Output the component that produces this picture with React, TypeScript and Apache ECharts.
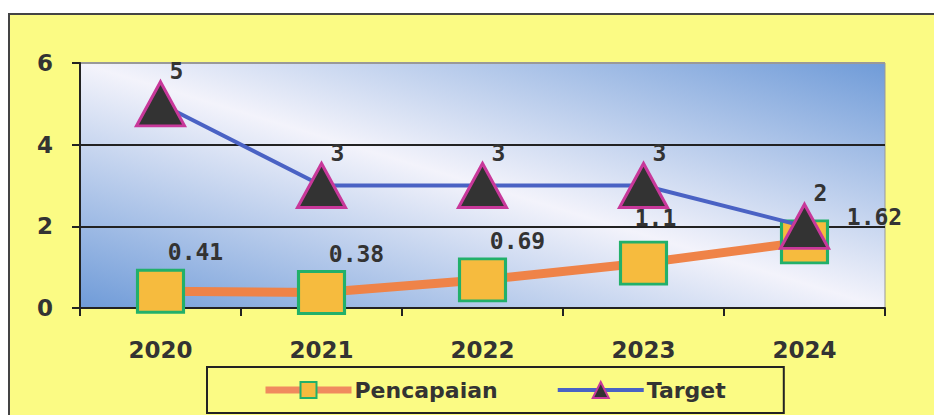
import React, { useEffect, useRef } from "react";
import * as echarts from "echarts";

const categories = ["2020", "2021", "2022", "2023", "2024"];
const pencapaian = [0.41, 0.38, 0.69, 1.1, 1.62];
const target = [5, 3, 3, 3, 2];
const seriesNames = ["Pencapaian", "Target"];

const FONT = "'DejaVu Sans', sans-serif";
const MONO = "'DejaVu Sans Mono', monospace";
const INK = "#333333";

export default function App() {
  const ref = useRef<HTMLDivElement>(null);

  useEffect(() => {
    if (!ref.current) return;
    const chart = echarts.init(ref.current, undefined, { renderer: "svg" });

    // plot-area gradient: white along the TL-BR diagonal, blue at TR and BL corners
    const gx0 = 80, gy0 = 63, gx1 = 885, gy1 = 308;
    const mx = (gx0 + gx1) / 2, my = (gy0 + gy1) / 2;
    const dx = gx1 - gx0, dy = gy1 - gy0;
    const len = Math.sqrt(dx * dx + dy * dy);
    const nx = dy / len, ny = -dx / len;
    const dist = Math.abs((gx0 - mx) * nx + (gy1 - my) * ny);
    const plotBg = new echarts.graphic.LinearGradient(
      mx - dist * nx, my - dist * ny, mx + dist * nx, my + dist * ny,
      [
        { offset: 0, color: "#6f9bd8" },
        { offset: 0.5, color: "#f3f3fb" },
        { offset: 1, color: "#6f9bd8" },
      ],
      true
    );

    const pencData = pencapaian.map((v, i) =>
      i === pencapaian.length - 1
        ? { value: v, label: { offset: [70, 14] } }
        : i === 3
        ? { value: v, label: { offset: [12, -6] } }
        : v
    );

    chart.setOption({
      animation: false,
      backgroundColor: "#fbfb84",
      textStyle: { fontFamily: FONT },
      graphic: [
        { type: "rect", shape: { x: 0, y: 0, width: 934, height: 13 }, style: { fill: "#ffffff" }, silent: true },
        { type: "rect", shape: { x: 0, y: 0, width: 8, height: 415 }, style: { fill: "#ffffff" }, silent: true },
        { type: "line", shape: { x1: 8, y1: 14, x2: 934, y2: 14 }, style: { stroke: "#444", lineWidth: 2 }, silent: true },
        { type: "line", shape: { x1: 9, y1: 13, x2: 9, y2: 415 }, style: { stroke: "#444", lineWidth: 2 }, silent: true },
      ],
      grid: {
        left: 80,
        top: 63,
        right: 49,
        bottom: 107,
        show: true,
        backgroundColor: plotBg,
        borderColor: "#999999",
        borderWidth: 1,
      },
      legend: {
        data: [
          { name: seriesNames[0], lineStyle: { width: 7, color: "#f08a5e" } },
          { name: seriesNames[1], lineStyle: { width: 4, color: "#4a62c4" } },
        ],
        left: 207,
        top: 367,
        padding: [12, 58, 12, 55],
        itemGap: 58,
        itemWidth: 86,
        itemHeight: 20,
        borderColor: "#222",
        borderWidth: 2,
        textStyle: { fontSize: 22, fontWeight: "bold", color: INK, fontFamily: FONT, padding: [0, 0, 0, -2] },
      },
      xAxis: {
        type: "category",
        data: categories,
        boundaryGap: true,
        axisLine: { show: true, lineStyle: { color: "#222", width: 2 } },
        axisTick: { show: true, length: 8, lineStyle: { color: "#222", width: 2 } },
        axisLabel: { margin: 30, fontSize: 23, fontWeight: "bold", color: INK, fontFamily: FONT },
        splitLine: { show: false },
      },
      yAxis: {
        type: "value",
        min: 0,
        max: 6,
        interval: 2,
        axisLine: { show: true, lineStyle: { color: "#222", width: 2 } },
        axisTick: { show: true, length: 8, lineStyle: { color: "#222", width: 2 } },
        axisLabel: { margin: 27, fontSize: 23, fontWeight: "bold", color: INK, fontFamily: FONT },
        splitLine: { show: true, lineStyle: { color: ["#222", "#222", "#222", "#999"], width: 2 } },
      },
      series: [
        {
          name: seriesNames[0],
          type: "line",
          data: pencData,
          symbol: "rect",
          symbolSize: [46, 42],
          lineStyle: { color: "#ef8348", width: 9 },
          itemStyle: { color: "#f6bb3e", borderColor: "#22b06a", borderWidth: 3 },
          label: {
            show: true,
            position: "top",
            distance: 5,
            offset: [35, 0],
            fontSize: 23,
            fontWeight: "bold",
            color: INK,
            fontFamily: MONO,
          },
          z: 2,
        },
        {
          name: seriesNames[1],
          type: "line",
          data: target,
          symbol: "triangle",
          symbolSize: [48, 44],
          lineStyle: { color: "#4a62c4", width: 4 },
          itemStyle: { color: "#333333", borderColor: "#c8389a", borderWidth: 3 },
          label: {
            show: true,
            position: "top",
            distance: 0,
            offset: [16, 2],
            fontSize: 23,
            fontWeight: "bold",
            color: INK,
            fontFamily: MONO,
          },
          z: 3,
        },
      ],
    });

    return () => chart.dispose();
  }, []);

  return (
    <div
      ref={ref}
      style={{ position: "fixed", left: 0, top: 0, width: 934, height: 415 }}
    />
  );
}
